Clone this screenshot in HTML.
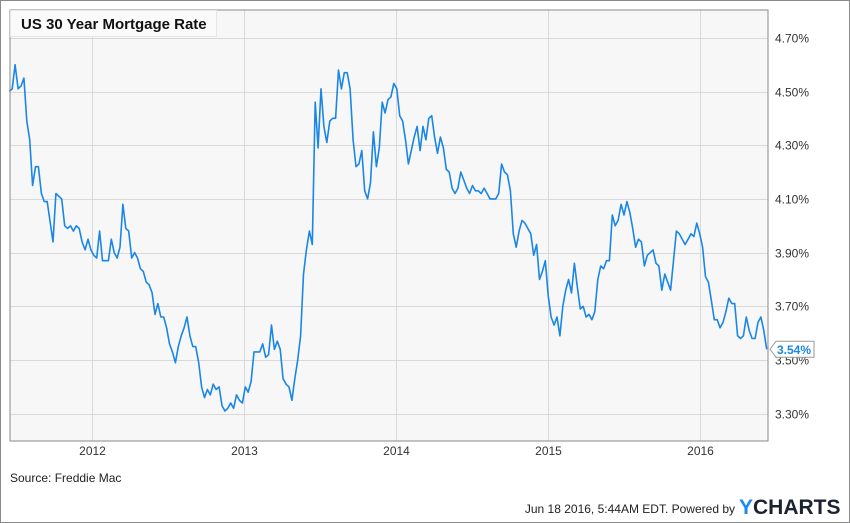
<!DOCTYPE html>
<html><head><meta charset="utf-8">
<style>
html,body{margin:0;padding:0;background:#fff;}
svg{display:block;font-family:"Liberation Sans",Arial,sans-serif;}
</style></head>
<body>
<svg id="chart" width="850" height="523" viewBox="0 0 850 523">
<rect x="0.5" y="0.5" width="849" height="522" fill="#fff" stroke="#8a8a8a"/>
<rect x="10" y="10" width="758" height="431" fill="#f7f7f7"/>
<g id="grid"></g>
<path id="line" fill="none" stroke="#1a86e6" stroke-width="1.6" stroke-linejoin="round"/>
<rect x="10" y="10" width="758" height="431" fill="none" stroke="#8a8a8a"/>
<g>
<rect x="10.5" y="10.5" width="206" height="26" fill="#fafafa" stroke="#e6e6e6"/>
<text x="21" y="29" font-size="15" font-weight="bold" fill="#111">US 30 Year Mortgage Rate</text>
</g>
<g id="yticks"></g>
<g id="xticks"></g>
<g id="lastlabel"></g>
<text x="10" y="482" font-size="12" fill="#222">Source: Freddie Mac</text>
<text x="735" y="513" font-size="12" fill="#222" text-anchor="end">Jun 18 2016, 5:44AM EDT.  Powered by</text>
<text x="739" y="514" font-size="21" font-weight="bold"><tspan fill="#1a8cf0">Y</tspan><tspan fill="#1b2330">CHARTS</tspan></text>
</svg>
<script>
const weeks=[0,1,2,3,4,5,6,7,8,9,10,11,12,13,15,16,18,19,20,21,22,23,24,25,26,27,28,29,30,31,32,34,35,36,37,38,39,40,41,42,43,44,45,46,47,48,49,50,51,52,53,54,55,56,57,58,59,60,61,62,63,64,65,66,67,68,69,70,71,72,73,74,75,76,77,78,79,80,81,82,83,84,86,87,88,89,90,91,92,93,94,95,96,97,98,99,100,101,102,103,104,105,106,107,108,109,110,111,112,113,114,115,116,117,118,119,120,121,122,123,124,125,126,127,128,129,130,131,132,133,134,135,136,137,138,139,140,141,142,143,144,145,146,147,148,149,150,151,152,153,154,155,156,157,158,159,160,161,162,163,164,165,167,168,169,170,171,172,173,174,175,176,177,178,179,180,181,182,183,184,185,186,187,188,189,190,191,192,193,194,195,196,197,198,199,200,201,202,203,204,205,206,207,208,209,210,211,212,213,214,215,216,217,218,219,220,221,222,223,224,225,226,227,228,229,230,231,232,233,234,235,236,237,238,239,240,241,242,243,244,245,246,247,248,249,250,251,252,253,254,255,256,257,258,259,260];
const rates=[4.50,4.51,4.60,4.51,4.52,4.55,4.39,4.32,4.15,4.22,4.22,4.12,4.09,4.09,3.94,4.12,4.10,4.00,3.99,4.00,3.98,4.00,3.99,3.94,3.91,3.95,3.91,3.89,3.88,3.98,3.87,3.87,3.95,3.90,3.88,3.92,4.08,3.99,3.98,3.88,3.90,3.88,3.84,3.83,3.79,3.78,3.75,3.67,3.71,3.66,3.66,3.62,3.56,3.53,3.49,3.55,3.59,3.62,3.66,3.59,3.55,3.55,3.49,3.40,3.36,3.39,3.37,3.41,3.39,3.40,3.33,3.31,3.32,3.34,3.32,3.37,3.35,3.34,3.40,3.38,3.42,3.53,3.53,3.56,3.51,3.52,3.63,3.54,3.57,3.54,3.43,3.41,3.40,3.35,3.43,3.50,3.59,3.82,3.91,3.98,3.93,4.46,4.29,4.51,4.37,4.31,4.39,4.40,4.40,4.58,4.51,4.57,4.57,4.51,4.32,4.22,4.23,4.28,4.13,4.10,4.16,4.35,4.22,4.29,4.46,4.42,4.47,4.48,4.53,4.51,4.41,4.39,4.32,4.23,4.28,4.33,4.37,4.28,4.37,4.32,4.40,4.41,4.33,4.27,4.33,4.29,4.21,4.20,4.14,4.12,4.14,4.20,4.17,4.14,4.12,4.15,4.13,4.13,4.12,4.14,4.12,4.10,4.10,4.12,4.23,4.20,4.19,4.13,3.97,3.92,3.98,4.02,4.01,3.99,3.97,3.89,3.93,3.80,3.83,3.87,3.74,3.66,3.63,3.66,3.59,3.70,3.76,3.80,3.75,3.86,3.77,3.69,3.70,3.66,3.67,3.65,3.68,3.80,3.85,3.84,3.87,3.87,4.04,4.00,4.02,4.08,4.04,4.09,4.05,3.99,3.92,3.95,3.94,3.85,3.89,3.90,3.91,3.86,3.85,3.76,3.82,3.79,3.76,3.87,3.98,3.97,3.95,3.93,3.95,3.97,3.96,4.01,3.97,3.92,3.81,3.79,3.72,3.65,3.65,3.62,3.64,3.68,3.73,3.71,3.71,3.59,3.58,3.59,3.66,3.61,3.58,3.58,3.64,3.66,3.61,3.54];
const yTickValues=[3.30,3.50,3.70,3.90,4.10,4.30,4.50,4.70];
const xTickYears=[2012,2013,2014,2015,2016];
const startYear=2011.456;

const NS='http://www.w3.org/2000/svg';
function yScale(v){return 91.5+(4.5-v)*268.5;}
function xYear(y){return 92+(y-2012)*152;}
function xWeek(w){return xYear(startYear+w*7/365.25);}
function mk(tag,attrs,parent){const e=document.createElementNS(NS,tag);for(const k in attrs)e.setAttribute(k,attrs[k]);parent.appendChild(e);return e;}

const grid=document.getElementById('grid');
const yt=document.getElementById('yticks');
yTickValues.forEach(v=>{
  const y=Math.round(yScale(v))+0.5;
  const l=mk('line',{x1:10,x2:768,y1:y,y2:y,stroke:'#d9d9d9','stroke-width':1},grid);
  
  
  const t=mk('text',{x:775,y:y+4,'font-size':12,fill:'#333'},yt);
  t.textContent=v.toFixed(2)+'%';
  
  
});
const xt=document.getElementById('xticks');
xTickYears.forEach(yr=>{
  const x=Math.round(xYear(yr))+0.5;
  const l=mk('line',{x1:x,x2:x,y1:10,y2:441,stroke:'#d9d9d9','stroke-width':1},grid);
  
  
  const t=mk('text',{x:x,y:455,'font-size':12,fill:'#333','text-anchor':'middle'},xt);
  t.textContent=String(yr);
  
  
});
let d='';
weeks.forEach((w,i)=>{d+=(i?'L':'M')+xWeek(w).toFixed(1)+','+yScale(rates[i]).toFixed(1);});
document.getElementById('line').setAttribute('d',d);

const last=rates[rates.length-1];
const ly=yScale(last);
const lg=document.getElementById('lastlabel');
const box=mk('path',{d:`M770,${ly} L776,${ly-8} L814,${ly-8} L814,${ly+8} L776,${ly+8} Z`,fill:'#fff',stroke:'#999','stroke-width':1},lg);


const lt=mk('text',{x:777,y:ly+4.5,'font-size':12,'font-weight':'bold',fill:'#1a86e6'},lg);
lt.textContent=last.toFixed(2)+'%';


</script>
</body></html>
